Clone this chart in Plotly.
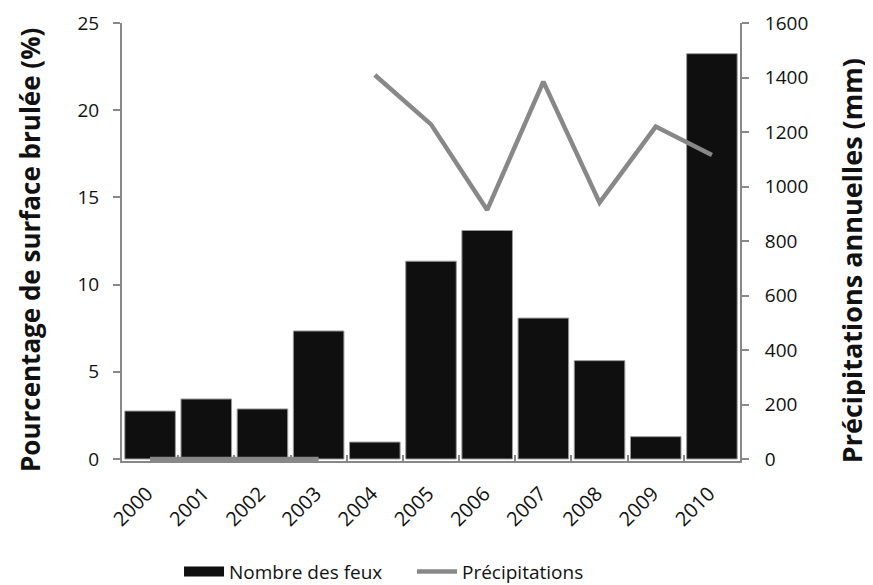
import plotly.graph_objects as go

years = ["2000", "2001", "2002", "2003", "2004", "2005", "2006", "2007", "2008", "2009", "2010"]
burned_pct = [2.75, 3.44, 2.87, 7.34, 0.97, 11.34, 13.1, 8.08, 5.64, 1.28, 23.24]
precip_mm = [0, 0, 0, 0, 1409, 1228, 914, 1385, 941, 1220, 1116]
split = 4  # line is broken between 2003 and 2004

FONT = "'Open Sans', Lato, sans-serif"
GRAY = "#888888"
NB = "\u00a0"

line_x = years[:split] + [None] + years[split:]
line_y = precip_mm[:split] + [None] + precip_mm[split:]

fig = go.Figure()
fig.add_trace(go.Bar(
    x=years, y=burned_pct, name="Nombre des feux", showlegend=False,
    marker=dict(color="#0f0f0f", line=dict(color="#999999", width=1)),
    yaxis="y",
))
# legend-only entry imitating the wide black rectangle key
fig.add_trace(go.Scatter(
    x=[None], y=[None], name="Nombre des feux" + NB * 5, mode="lines",
    line=dict(color="#0f0f0f", width=14), yaxis="y", hoverinfo="skip",
))
fig.add_trace(go.Scatter(
    x=line_x, y=line_y, name="Précipitations", mode="lines",
    line=dict(color=GRAY, width=4.5), connectgaps=False, yaxis="y2",
))

# page body has an 8px margin; the figure is sized to fill the rest of the window
fig.update_layout(
    width=865, height=577,
    margin=dict(l=114, r=133, t=15, b=124, autoexpand=False),
    paper_bgcolor="white", plot_bgcolor="white",
    font=dict(family=FONT, size=17, color="#111111"),
    bargap=0.1,
    showlegend=True,
    legend=dict(orientation="h", x=0.424, xanchor="center", yref="container", y=0.023,
                yanchor="middle", font=dict(size=19, family=FONT), itemwidth=40,
                tracegroupgap=0),
    xaxis=dict(
        type="category", tickangle=-45, showline=True, linecolor=GRAY, linewidth=2,
        ticks="inside", tickson="boundaries", ticklen=6, tickcolor=GRAY, tickwidth=2,
        showgrid=False, tickfont=dict(size=20), automargin=False,
        ticklabelstandoff=11, ticklabelshift=-3,
    ),
    yaxis=dict(
        range=[-0.115, 25], tickvals=[0, 5, 10, 15, 20, 25], showline=True, linecolor=GRAY,
        linewidth=2, ticks="outside", ticklen=7, tickcolor=GRAY, tickwidth=2,
        showgrid=False, zeroline=False, tickfont=dict(size=19), ticklabelstandoff=10,
        automargin=False,
    ),
    yaxis2=dict(
        range=[-7.36, 1600], tickvals=list(range(0, 1601, 200)), overlaying="y", side="right",
        showline=True, linecolor=GRAY, linewidth=2, ticks="outside", ticklen=7,
        tickcolor=GRAY, tickwidth=2, showgrid=False, zeroline=False, tickfont=dict(size=19),
        ticklabelstandoff=12, automargin=False,
    ),
    annotations=[
        dict(text="<b>Pourcentage de surface brulée (%)</b>", textangle=-90,
             xref="paper", yref="paper", x=0, y=0.4817, xshift=-92, showarrow=False,
             xanchor="center", yanchor="middle", font=dict(size=26, family=FONT, color="#111111")),
        dict(text="<b>Précipitations annuelles (mm)</b>", textangle=-90,
             xref="paper", yref="paper", x=1, y=0.456, xshift=111, showarrow=False,
             xanchor="center", yanchor="middle", font=dict(size=27, family=FONT, color="#111111")),
    ],
)

fig.write_html("out.html")
